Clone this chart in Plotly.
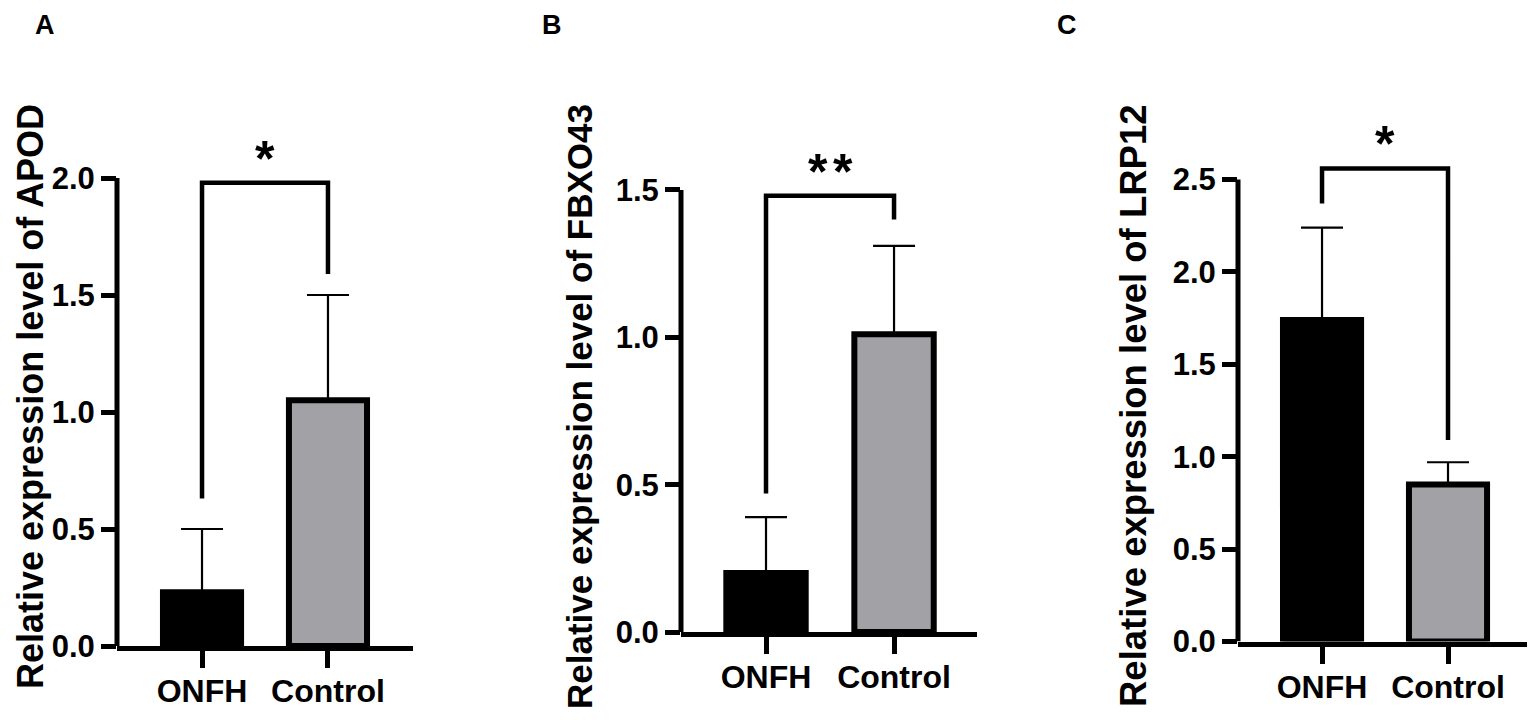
import plotly.graph_objects as go

# page body adds an 8 px margin; figure is sized so the page is 1535x720
PAGE_W, PAGE_H, BODY = 1535, 720, 8
W, H = PAGE_W - 2 * BODY, PAGE_H - 2 * BODY
FONT = "Arial, 'Liberation Sans', sans-serif"

# ---------------- data ----------------
categories = ["ONFH", "Control"]

apod_mean = [0.23, 1.05]
apod_err = [0.27, 0.45]
apod_bracket = [0.63, 1.98, 1.59]      # left leg end, top, right leg end
apod_ticks = [0.0, 0.5, 1.0, 1.5, 2.0]

fbxo43_mean = [0.20, 1.01]
fbxo43_err = [0.19, 0.30]
fbxo43_bracket = [0.47, 1.48, 1.40]
fbxo43_ticks = [0.0, 0.5, 1.0, 1.5]

lrp12_mean = [1.74, 0.85]
lrp12_err = [0.50, 0.12]
lrp12_bracket = [2.37, 2.56, 1.09]
lrp12_ticks = [0.0, 0.5, 1.0, 1.5, 2.0, 2.5]

sig_labels = ["*", "**", "*"]
genes = ["APOD", "FBXO43", "LRP12"]
panel_letters = ["A", "B", "C"]

bar_colors = ["#000000", "#a2a1a6"]


def fx(px):
    return min(1.0, max(0.0, (px - BODY) / W))


def fy(py):
    return min(1.0, max(0.0, 1 - (py - BODY) / H))


def star_text(s):
    # slightly wider spacing between consecutive asterisks
    return '<span style="font-size:20px"> </span>'.join(list(s))


# ---------------- layout geometry (page pixels) ----------------
# title_left: left edge of the rotated title box
geom = [
    dict(xpx=(117, 413), xr=(-0.675, 1.675), y0=646.0, ytop=120.0, ppu=234.0,
         title_left=8, title_size=36, letter_x=33),
    dict(xpx=(681, 977), xr=(-0.664, 1.648), y0=632.0, ytop=120.0, ppu=294.7,
         title_left=558, title_size=35, letter_x=540),
    dict(xpx=(1238, 1527), xr=(-0.667, 1.627), y0=641.5, ytop=100.0, ppu=184.8,
         title_left=1111, title_size=36.5, letter_x=1055),
]

means = [apod_mean, fbxo43_mean, lrp12_mean]
errs = [apod_err, fbxo43_err, lrp12_err]
brackets = [apod_bracket, fbxo43_bracket, lrp12_bracket]
ticks = [apod_ticks, fbxo43_ticks, lrp12_ticks]

fig = go.Figure()
annotations = []
shapes = []

for i in range(3):
    g = geom[i]
    xa = "x" if i == 0 else f"x{i+1}"
    ya = "y" if i == 0 else f"y{i+1}"
    xkey = "xaxis" if i == 0 else f"xaxis{i+1}"
    ykey = "yaxis" if i == 0 else f"yaxis{i+1}"

    fig.add_trace(go.Bar(
        x=categories, y=means[i], xaxis=xa, yaxis=ya,
        width=0.62,
        marker=dict(color=bar_colors, line=dict(color="black", width=6)),
        error_y=dict(type="data", symmetric=False, array=errs[i],
                     arrayminus=[0, 0], thickness=2.2, width=21, color="black"),
        showlegend=False, hoverinfo="skip",
    ))

    b = brackets[i]
    fig.add_trace(go.Scatter(
        x=[categories[0], categories[0], categories[1], categories[1]],
        y=[b[0], b[1], b[1], b[2]],
        xaxis=xa, yaxis=ya, mode="lines",
        line=dict(color="black", width=4.5),
        showlegend=False, hoverinfo="skip",
    ))

    yrange_top = (g["y0"] - g["ytop"]) / g["ppu"]
    fig.update_layout({
        xkey: dict(
            domain=[fx(g["xpx"][0]), fx(g["xpx"][1])],
            range=list(g["xr"]), anchor=ya, type="category",
            showline=True, linewidth=5, linecolor="black",
            ticks="outside", ticklen=17, tickwidth=5, tickcolor="black",
            ticklabelstandoff=-4,
            tickfont=dict(family=FONT, size=32, color="black", weight="bold"),
            showgrid=False, zeroline=False, fixedrange=True, automargin=False,
        ),
        ykey: dict(
            domain=[fy(g["y0"]), fy(g["ytop"])],
            range=[0, yrange_top], anchor=xa,
            showline=False,
            tickmode="array", tickvals=ticks[i],
            ticktext=[f"{t:.1f}" for t in ticks[i]],
            ticks="outside", ticklen=15, tickwidth=5, tickcolor="black",
            tickfont=dict(family=FONT, size=31, color="black", weight="bold"),
            showgrid=False, zeroline=False, fixedrange=True, automargin=False,
        ),
    })

    # y-axis spine from 0 to last tick
    shapes.append(dict(type="line", xref=f"{xa} domain", yref=ya,
                       x0=0, x1=0, y0=ticks[i][0], y1=ticks[i][-1],
                       line=dict(color="black", width=5)))

    # significance stars
    annotations.append(dict(
        x=0.5, y=b[1], xref=xa, yref=ya, text=star_text(sig_labels[i]),
        showarrow=False, xanchor="center", yanchor="bottom", yshift=-6,
        font=dict(family=FONT, size=50, color="black", weight="bold"),
    ))

    # y titles
    annotations.append(dict(
        x=fx(g["title_left"]), y=fy(102), xref="paper", yref="paper",
        text=f"Relative expression level of {genes[i]}", textangle=-90,
        showarrow=False, xanchor="left", yanchor="top",
        font=dict(family=FONT, size=g["title_size"], color="black", weight="bold"),
    ))

    # panel letters
    annotations.append(dict(
        x=fx(g["letter_x"]), y=fy(2), xref="paper", yref="paper",
        text=panel_letters[i], showarrow=False, xanchor="left", yanchor="top",
        font=dict(family=FONT, size=27, color="black", weight="bold"),
    ))

fig.update_layout(
    width=W, height=H,
    margin=dict(l=0, r=0, t=0, b=0),
    paper_bgcolor="white", plot_bgcolor="white",
    annotations=annotations, shapes=shapes,
    bargap=0.3,
)

fig.write_html("out.html", config={"displayModeBar": False})
